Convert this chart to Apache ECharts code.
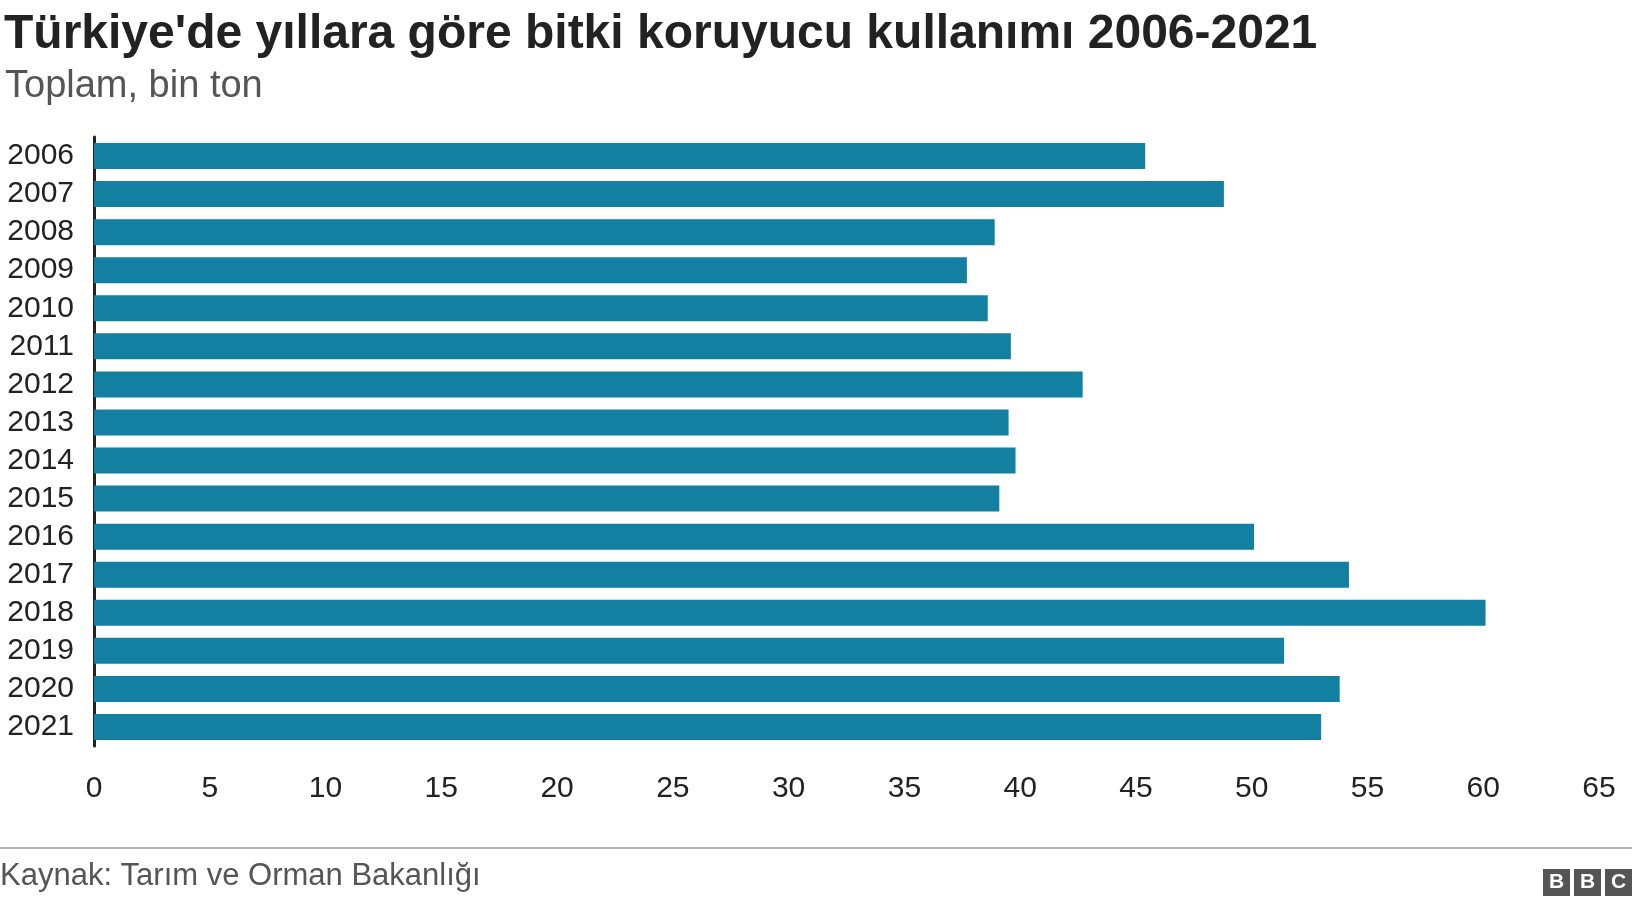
<!DOCTYPE html>
<html><head><meta charset="utf-8">
<script src="https://cdn.jsdelivr.net/npm/echarts@6/dist/echarts.min.js"></script>
<style>body{margin:0;background:#fff}#c{width:1632px;height:904px}</style>
</head><body><div id="c"></div>
<script>
const years=['2006','2007','2008','2009','2010','2011','2012','2013','2014','2015','2016','2017','2018','2019','2020','2021'];
const values=[45.4,48.8,38.9,37.7,38.6,39.6,42.7,39.5,39.8,39.1,50.1,54.2,60.1,51.4,53.8,53.0];
const xTicks=[0,5,10,15,20,25,30,35,40,45,50,55,60,65];
const F='Liberation Sans, Arial, sans-serif';
const chart=echarts.init(document.getElementById('c'));
const box=(x,t)=>({type:'group',right:x,top:869,children:[
 {type:'rect',shape:{x:0,y:0,width:27,height:27},style:{fill:'#555'}},
 {type:'text',x:13.5,y:13.5,style:{text:t,fill:'#fff',font:'bold 21px '+F,align:'center',verticalAlign:'middle'}}]});
chart.setOption({
 animation:false,
 title:[{text:"Türkiye'de yıllara göre bitki koruyucu kullanımı 2006-2021",left:-1,top:6,textStyle:{fontFamily:F,fontSize:48,fontWeight:'bold',color:'#222'}},
        {text:'Toplam, bin ton',left:0,top:63,textStyle:{fontFamily:F,fontSize:38,fontWeight:'normal',color:'#555'}}],
 grid:{left:94,right:33,top:137,bottom:158,containLabel:false},
 xAxis:{type:'value',min:0,max:65,interval:5,splitLine:{show:false},axisLine:{show:false},axisTick:{show:false},
  axisLabel:{fontFamily:F,fontSize:30,color:'#222',margin:28,formatter:v=>xTicks.includes(v)?String(v):''}},
 yAxis:{type:'category',data:years,inverse:true,axisTick:{show:false},
  axisLine:{show:true,lineStyle:{color:'#222',width:3}},
  axisLabel:{fontFamily:F,fontSize:30,color:'#222',margin:20,interval:0}},
 series:[{type:'bar',data:values,barWidth:26,itemStyle:{color:'#1380a1'}}],
 graphic:[
  {type:'line',shape:{x1:0,y1:848,x2:1632,y2:848},style:{stroke:'#999',lineWidth:1.5}},
  {type:'text',left:0,top:861,style:{text:'Kaynak: Tarım ve Orman Bakanlığı',font:'31px '+F,fill:'#555'}},
  box(62,'B'),box(31,'B'),box(0,'C')
 ]
});
</script></body></html>
